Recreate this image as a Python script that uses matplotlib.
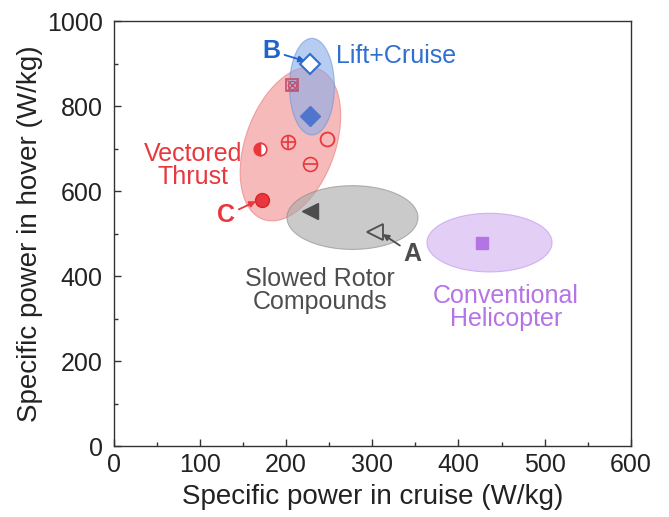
import numpy as np
import matplotlib
matplotlib.use("Agg")
import matplotlib.pyplot as plt
from matplotlib.ticker import MultipleLocator

plt.rcParams['font.family'] = ['Liberation Sans', 'DejaVu Sans']

# Dados (W/kg): potência específica em cruzeiro x potência em voo pairado
lc_open_x, lc_open_y = [228], [900]          # B
lc_fill_x, lc_fill_y = [228], [778]
vt_cross_x, vt_cross_y = [207], [850]
vt_half_x, vt_half_y = [170], [700]
vt_plus_x, vt_plus_y = [202], [715]
vt_open_x, vt_open_y = [248], [722]
vt_minus_x, vt_minus_y = [228], [665]
vt_ball_x, vt_ball_y = [172], [580]          # C
src_fill_x, src_fill_y = [228], [553]
src_open_x, src_open_y = [303], [503]        # A
heli_x, heli_y = [427], [478]

x_ticks = [0, 100, 200, 300, 400, 500, 600]
y_ticks = [0, 200, 400, 600, 800, 1000]

RED = '#e8383d'
BLUE = '#2f6fd0'
GRAY = '#4d4d4d'
PURPLE = '#b574e6'

fig = plt.figure(figsize=(6.69, 5.17), dpi=100)
ax = fig.add_axes([0.170, 0.137, 0.773, 0.822])
ax.set_xlim(0, 600)
ax.set_ylim(0, 1000)

# razão de escala entre os eixos (pixels por unidade)
k = (0.773 * 669 / 600) / (0.822 * 517 / 1000)


def elipse(cx, cy, a, b, ang):
    t = np.linspace(0, 2 * np.pi, 300)
    u = a * np.cos(t)
    v = b * np.sin(t)
    r = np.deg2rad(ang)
    ur = u * np.cos(r) - v * np.sin(r)
    vr = u * np.sin(r) + v * np.cos(r)
    return cx + ur, cy + vr * k


# regiões
xe, ye = elipse(205, 711, 93, 52, 70)
ax.fill(xe, ye, facecolor='#f28c8c', edgecolor='#e87878', alpha=0.6, lw=0.8, zorder=1)
xe, ye = elipse(230, 846, 26, 56, 0)
ax.fill(xe, ye, facecolor='#86abe8', edgecolor='#6a92d8', alpha=0.6, lw=0.8, zorder=2)
xe, ye = elipse(277, 538, 76, 37, 0)
ax.fill(xe, ye, facecolor='#a8a8a8', edgecolor='#888888', alpha=0.6, lw=0.8, zorder=2)
xe, ye = elipse(436, 479, 72.5, 34, 0)
ax.fill(xe, ye, facecolor='#dcc2f4', edgecolor='#c9a4ee', alpha=0.8, lw=0.8, zorder=2)

# pontos
ax.plot(lc_open_x, lc_open_y, 'D', ms=10, mfc='white', mec=BLUE, mew=1.5, zorder=5)
ax.plot(lc_fill_x, lc_fill_y, 'D', ms=10, mfc='#4f75cc', mec='#4f75cc', zorder=5)
ax.plot(vt_cross_x, vt_cross_y, 's', ms=9, mfc='none', mec='#c05070', mew=1.2, zorder=5)
ax.plot(vt_cross_x, vt_cross_y, 'x', ms=7, mec='#c05070', mew=1.0, zorder=5)
ax.plot(vt_cross_x, vt_cross_y, 'o', ms=6, mfc='none', mec='#c05070', mew=1.0, zorder=5)
ax.plot(vt_half_x, vt_half_y, 'o', ms=9, fillstyle='left', mfc=RED, mfcalt='white',
        mec=RED, mew=1.2, zorder=5)
ax.plot(vt_plus_x, vt_plus_y, 'o', ms=10, mfc='none', mec=RED, mew=1.2, zorder=5)
ax.plot(vt_plus_x, vt_plus_y, '+', ms=10, mec=RED, mew=1.2, zorder=5)
ax.plot(vt_open_x, vt_open_y, 'o', ms=10, mfc='none', mec=RED, mew=1.3, zorder=5)
ax.plot(vt_minus_x, vt_minus_y, 'o', ms=10, mfc='none', mec=RED, mew=1.2, zorder=5)
ax.plot(vt_minus_x, vt_minus_y, '_', ms=10, mec=RED, mew=1.2, zorder=5)
ax.plot(vt_ball_x, vt_ball_y, 'o', ms=10, mfc=RED, mec='#d02828', zorder=5)
ax.plot(src_fill_x, src_fill_y, '<', ms=11, mfc=GRAY, mec=GRAY, zorder=5)
ax.plot(src_open_x, src_open_y, '<', ms=11, mfc='none', mec=GRAY, mew=1.3, zorder=5)
ax.plot(heli_x, heli_y, 's', ms=9, mfc=PURPLE, mec=PURPLE, zorder=5)

# textos das categorias
fs = 18
ax.text(258, 918, 'Lift+Cruise', color=BLUE, fontsize=fs, va='center', ha='left')
ax.text(92, 660, 'Vectored\nThrust', color=RED, fontsize=fs, va='center', ha='center',
        linespacing=0.95)
ax.text(239, 367, 'Slowed Rotor\nCompounds', color=GRAY, fontsize=fs, va='center',
        ha='center', linespacing=0.95)
ax.text(455, 326, 'Conventional\nHelicopter', color=PURPLE, fontsize=fs, va='center',
        ha='center', linespacing=0.95)

# rótulos A, B, C com setas
seta = dict(arrowstyle='-|>', lw=1.3, mutation_scale=9, shrinkA=1, shrinkB=0)
ax.annotate('B', xy=(222, 906), xytext=(183, 930),
            color='#1f63cc', fontsize=18, fontweight='bold', va='center', ha='center',
            arrowprops=dict(seta, color='#1f63cc'))
ax.annotate('C', xy=(vt_ball_x[0] - 7, vt_ball_y[0] - 4), xytext=(130, 543),
            color=RED, fontsize=18, fontweight='bold', va='center', ha='center',
            arrowprops=dict(seta, color=RED))
ax.annotate('A', xy=(src_open_x[0] + 9, src_open_y[0] - 4), xytext=(347, 452),
            color=GRAY, fontsize=18, fontweight='bold', va='center', ha='center',
            arrowprops=dict(seta, color=GRAY))

ax.set_xticks(x_ticks)
ax.set_yticks(y_ticks)
ax.xaxis.set_minor_locator(MultipleLocator(50))
ax.yaxis.set_minor_locator(MultipleLocator(100))
ax.tick_params(which='both', direction='in', top=False, right=False, color='#333333',
               labelsize=18, labelcolor='#222222', width=1)
ax.tick_params(which='major', length=5)
ax.tick_params(which='minor', length=3)
ax.tick_params(axis='y', pad=8)
ax.tick_params(axis='x', pad=5)
for s in ax.spines.values():
    s.set_color('#333333')
    s.set_linewidth(1)

ax.set_xlabel('Specific power in cruise (W/kg)', fontsize=20, color='#222222', labelpad=5)
ax.set_ylabel('Specific power in hover (W/kg)', fontsize=20, color='#222222', labelpad=3)

fig.savefig('out.png', dpi=100)
